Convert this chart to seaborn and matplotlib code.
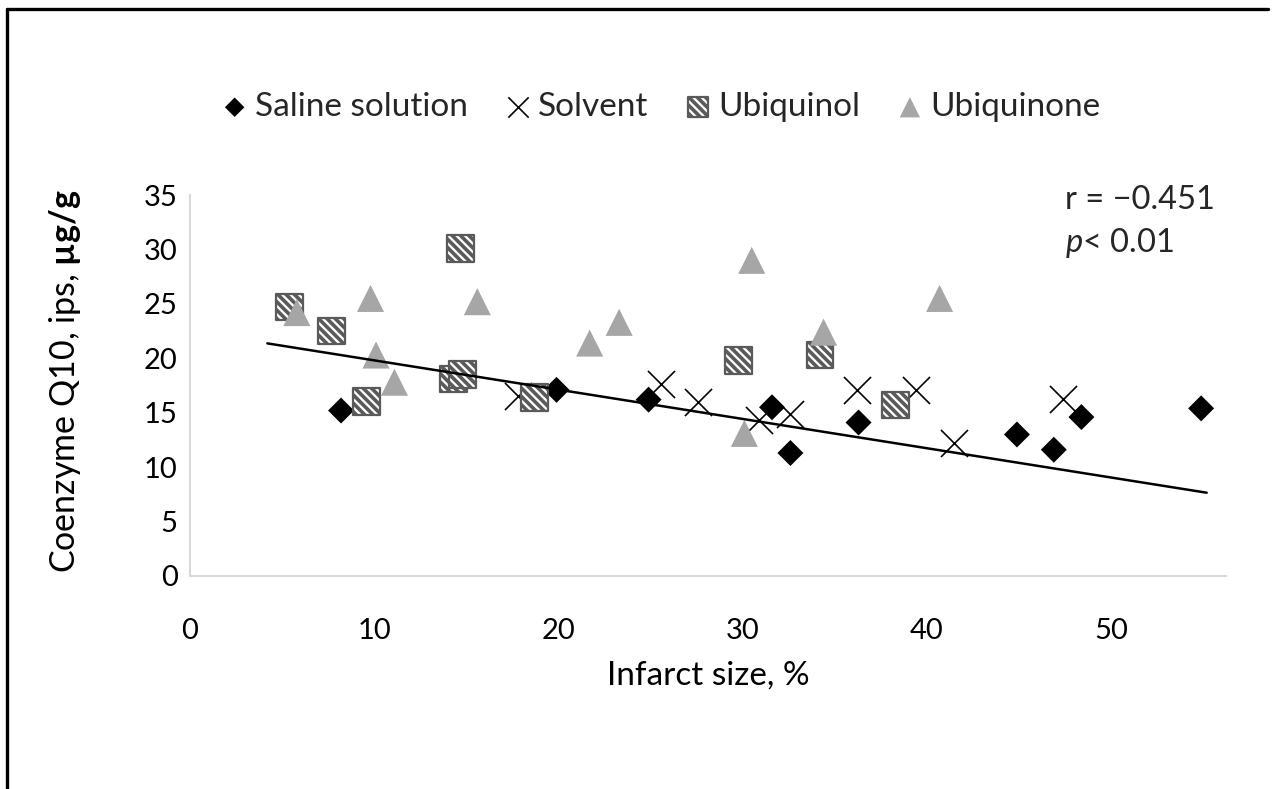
import numpy as np
import pandas as pd
import seaborn as sns
import matplotlib.pyplot as plt
from matplotlib.lines import Line2D

# ---------------- data ----------------
saline_x = [8.2, 19.9, 24.9, 31.6, 32.6, 36.3, 44.9, 46.9, 48.4, 54.9]
saline_y = [15.2, 17.1, 16.2, 15.5, 11.3, 14.1, 13.0, 11.6, 14.6, 15.4]

solvent_x = [17.8, 25.6, 27.6, 30.9, 32.6, 36.2, 39.4, 41.5, 47.4]
solvent_y = [16.5, 17.6, 16.0, 14.3, 14.9, 17.1, 17.1, 12.2, 16.3]

ubiquinol_x = [5.4, 7.7, 9.6, 14.3, 14.8, 14.7, 18.7, 29.8, 34.2, 38.3]
ubiquinol_y = [24.7, 22.5, 16.0, 18.1, 18.5, 30.1, 16.4, 19.8, 20.3, 15.7]

ubiquinone_x = [5.8, 9.8, 10.1, 11.1, 15.6, 21.7, 23.3, 30.1, 30.5, 34.4, 40.7]
ubiquinone_y = [24.2, 25.5, 20.3, 17.8, 25.2, 21.4, 23.3, 13.1, 29.0, 22.4, 25.5]

trend_slope = -0.269
trend_intercept = 22.5
trend_x_range = [4.2, 55.2]

series_names = ["Saline solution", "Solvent", "Ubiquinol", "Ubiquinone"]
x_ticks = [0, 10, 20, 30, 40, 50]
y_ticks = [0, 5, 10, 15, 20, 25, 30, 35]
r_text = "r = \u22120.451"
p_text = r"$p$< 0.01"
x_label = "Infarct size, %"
y_label = "Coenzyme Q10, ips, $\\mathbf{\u00b5g/g}$"

# ---------------- style ----------------
sns.set_theme(style="white")
plt.rcParams['font.family'] = ['Lato', 'DejaVu Sans']
plt.rcParams['mathtext.fontset'] = 'custom'
plt.rcParams['mathtext.rm'] = 'Lato'
plt.rcParams['mathtext.it'] = 'Lato:italic'
plt.rcParams['mathtext.bf'] = 'Lato:bold'
plt.rcParams['hatch.linewidth'] = 2.6
plt.rcParams['hatch.color'] = 'black'

W, H = 1274, 789
fig = plt.figure(figsize=(W / 100, H / 100), dpi=100)
fig.patch.set_facecolor('white')
ax = fig.add_axes([190 / W, 1 - 576 / H, 1036 / W, 381 / H])

df = pd.concat([
    pd.DataFrame({"x": saline_x, "y": saline_y, "group": series_names[0]}),
    pd.DataFrame({"x": solvent_x, "y": solvent_y, "group": series_names[1]}),
    pd.DataFrame({"x": ubiquinol_x, "y": ubiquinol_y, "group": series_names[2]}),
    pd.DataFrame({"x": ubiquinone_x, "y": ubiquinone_y, "group": series_names[3]}),
])

handles = []
sns.scatterplot(data=df[df.group == series_names[0]], x="x", y="y", ax=ax,
                marker="D", s=175, color="black", edgecolor="none", zorder=3)
handles.append(ax.collections[-1])
sns.scatterplot(data=df[df.group == series_names[1]], x="x", y="y", ax=ax,
                marker="x", s=380, color="black", linewidth=1.2, zorder=3)
handles.append(ax.collections[-1])
sns.scatterplot(data=df[df.group == series_names[2]], x="x", y="y", ax=ax,
                marker="s", s=370, color="white", edgecolor="#5a5a5a",
                linewidth=1.6, hatch="\\\\\\\\", zorder=3)
handles.append(ax.collections[-1])
sns.scatterplot(data=df[df.group == series_names[3]], x="x", y="y", ax=ax,
                marker="^", s=380, color="#a6a6a6", edgecolor="none", zorder=3)
handles.append(ax.collections[-1])

tx = np.array(trend_x_range)
trend_df = pd.DataFrame({"x": tx, "y": trend_intercept + trend_slope * tx})
sns.lineplot(data=trend_df, x="x", y="y", ax=ax, color="black", linewidth=1.8, zorder=4)

ax.set_xlim(0.16, 56.25)
ax.set_ylim(0, 35)
ax.set_xticks(x_ticks)
ax.set_yticks(y_ticks)
ax.tick_params(axis='both', length=0, labelsize=21, colors='black')
ax.tick_params(axis='x', pad=30)
ax.tick_params(axis='y', pad=9)
for sp in ["top", "right"]:
    ax.spines[sp].set_visible(False)
for sp in ["left", "bottom"]:
    ax.spines[sp].set_color("#d9d9d9")
    ax.spines[sp].set_linewidth(1.5)
ax.grid(False)

ax.set_xlabel(x_label, fontsize=24, color='black')
ax.set_ylabel(y_label, fontsize=24.5, color='black')
ax.xaxis.set_label_coords(0.5, -0.222)
ax.yaxis.set_label_coords(-0.103, 0.51)

fig.text(1065 / W, 1 - 200 / H, r_text, fontsize=23.5, va='center', ha='left')
fig.text(1065 / W, 1 - 243 / H, p_text, fontsize=23.5, va='center', ha='left')

fig.legend(handles=handles, labels=series_names, loc='center',
           bbox_to_anchor=(659 / W, 1 - 107 / H), ncol=4, frameon=False,
           markerscale=0.75, handletextpad=0.1, columnspacing=1.0,
           fontsize=24, handlelength=1.0, scatterpoints=1)

# figure frame (top and left)
fig.add_artist(Line2D([7 / W, 1268 / W], [1 - 9 / H, 1 - 9 / H], color='black', linewidth=2.4,
                      transform=fig.transFigure))
fig.add_artist(Line2D([7 / W, 7 / W], [0, 1 - 9 / H], color='black', linewidth=2.4,
                      transform=fig.transFigure))

fig.savefig("out.png", dpi=100, facecolor='white')
